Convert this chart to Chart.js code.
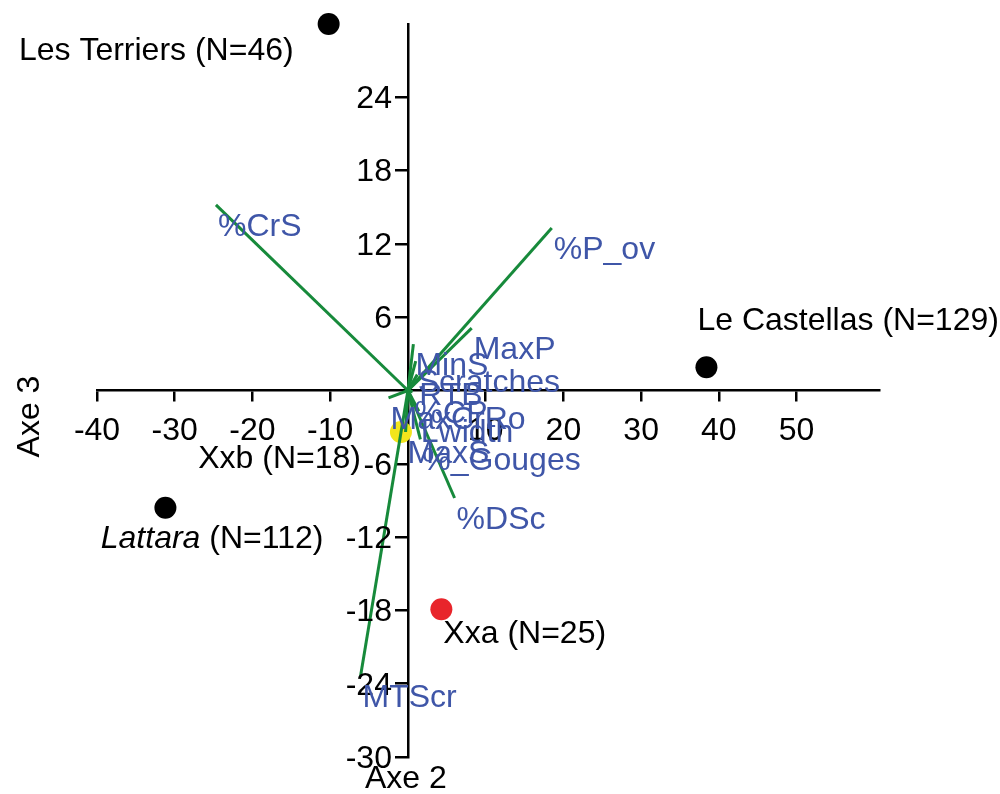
<!DOCTYPE html>
<html>
<head>
<meta charset="utf-8">
<script src="https://cdn.jsdelivr.net/npm/chart.js@4.4.1/dist/chart.umd.min.js"></script>
<style>
  html, body { margin: 0; padding: 0; background: #fff; }
  #wrap { width: 1000px; height: 794px; }
</style>
</head>
<body>
<div id="wrap"><canvas id="pcaChart" width="1000" height="794"></canvas></div>
<script>
// variable vectors (Axe 2, Axe 3)
const varNames = ['%CrS', '%P_ov', 'MTScr', '%DSc', 'MaxP', 'MinS', 'Scratches', 'RTB', '%CP', 'MaxCrRo', 'Lwidth', 'MaxS', '%_Gouges'];
const varX = [-24.7, 18.5, -6.1, 6.0, 8.2, 0.7, 1.0, 1.2, 0.6, -2.5, 1.4, -0.3, 1.6];
const varY = [15.2, 13.3, -23.4, -8.8, 5.1, 3.8, 2.4, 1.3, -0.1, -0.6, -1.7, -3.4, -4.0];

// sites
const siteNames = ['Les Terriers', 'Le Castellas', 'Lattara', 'Xxb', 'Xxa'];
const siteN = [46, 129, 112, 18, 25];
const siteX = [-10.2, 38.4, -31.2, -0.9, 4.3];
const siteY = [30.0, 1.9, -9.6, -3.4, -17.9];

const xTicks = [-40, -30, -20, -10, 10, 20, 30, 40, 50];
const yTicks = [-30, -24, -18, -12, -6, 6, 12, 18, 24];

const FONT = '"Liberation Sans", Arial, Helvetica, sans-serif';
const SIZE = 32;
const GREEN = '#178a3b';
const BLUE = '#3f56a8';
const siteColors = ['#000', '#000', '#000', '#f2e51c', '#e8252b'];
// label placement relative to the point, in pixels
const siteLabelPos = [
    { dx: -35, dy: 27, align: 'right' },
    { dx: -9, dy: -46, align: 'left' },
    { dx: 158, dy: 31, align: 'right' },
    { dx: -40, dy: 27, align: 'right' },
    { dx: 2, dy: 25, align: 'left' }
];

const vectorSets = varNames.map((name, i) => ({
    label: name,
    data: [{ x: 0, y: 0 }, { x: varX[i], y: varY[i] }],
    showLine: true,
    borderColor: GREEN,
    borderWidth: 3,
    pointRadius: 0,
    clip: false
}));

const labelPlugin = {
    id: 'labels',
    afterDatasetsDraw(chart) {
        const ctx = chart.ctx;
        const xs = chart.scales.x, ys = chart.scales.y;
        const x0 = xs.getPixelForValue(0), y0 = ys.getPixelForValue(0);
        ctx.save();
        ctx.font = SIZE + 'px ' + FONT;
        ctx.textBaseline = 'middle';
        // tick labels
        ctx.fillStyle = '#000';
        ctx.textAlign = 'center';
        xs.ticks.forEach(t => ctx.fillText(String(t.value), xs.getPixelForValue(t.value), y0 + 41));
        ctx.textAlign = 'right';
        yTicks.forEach(v => ctx.fillText(String(v), x0 - 16, ys.getPixelForValue(v) + 2));
        // vector labels
        ctx.fillStyle = BLUE;
        ctx.textAlign = 'left';
        varNames.forEach((name, i) => {
            ctx.fillText(name, xs.getPixelForValue(varX[i]) + 2, ys.getPixelForValue(varY[i]) + 22);
        });
        // site labels
        ctx.fillStyle = '#000';
        siteNames.forEach((name, i) => {
            const p = siteLabelPos[i];
            const px = xs.getPixelForValue(siteX[i]) + p.dx;
            const py = ys.getPixelForValue(siteY[i]) + p.dy;
            const rest = ' (N=' + siteN[i] + ')';
            if (name === 'Lattara') {
                ctx.font = 'italic ' + SIZE + 'px ' + FONT;
                const w1 = ctx.measureText(name).width;
                ctx.font = SIZE + 'px ' + FONT;
                const w2 = ctx.measureText(rest).width;
                const left = p.align === 'right' ? px - w1 - w2 : px;
                ctx.textAlign = 'left';
                ctx.font = 'italic ' + SIZE + 'px ' + FONT;
                ctx.fillText(name, left, py);
                ctx.font = SIZE + 'px ' + FONT;
                ctx.fillText(rest, left + w1, py);
            } else {
                ctx.textAlign = p.align;
                ctx.fillText(name + rest, px, py);
            }
        });
        // axis titles
        ctx.textAlign = 'center';
        ctx.fillText('Axe 2', x0 - 2, ys.bottom + 22);
        ctx.translate(30, (ys.top + ys.bottom) / 2 + 26);
        ctx.rotate(-Math.PI / 2);
        ctx.fillText('Axe 3', 0, 0);
        ctx.restore();
    }
};

const axisGrid = { drawOnChartArea: false, drawTicks: true, color: '#000', lineWidth: 2.5 };

new Chart(document.getElementById('pcaChart').getContext('2d'), {
    type: 'scatter',
    data: {
        datasets: [
            ...vectorSets,
            {
                label: 'sites',
                data: siteNames.map((n, i) => ({ x: siteX[i], y: siteY[i] })),
                backgroundColor: siteColors,
                borderWidth: 0,
                pointRadius: 11,
                clip: false
            }
        ]
    },
    options: {
        responsive: false,
        animation: false,
        layout: { padding: { left: 97, right: 121, top: 24, bottom: 37 } },
        plugins: { legend: { display: false }, tooltip: { enabled: false } },
        scales: {
            x: {
                type: 'linear', min: -40, max: 60.6, position: { y: 0 },
                grid: { ...axisGrid, tickLength: 10 },
                border: { display: true, color: '#000', width: 2.5 },
                afterBuildTicks: s => { s.ticks = xTicks.map(v => ({ value: v })); },
                ticks: { display: false }
            },
            y: {
                type: 'linear', min: -30, max: 30, position: { x: 0 },
                grid: { ...axisGrid, tickLength: 12 },
                border: { display: true, color: '#000', width: 2.5 },
                afterBuildTicks: s => { s.ticks = yTicks.map(v => ({ value: v })); },
                ticks: { display: false }
            }
        }
    },
    plugins: [labelPlugin]
});
</script>
</body>
</html>
